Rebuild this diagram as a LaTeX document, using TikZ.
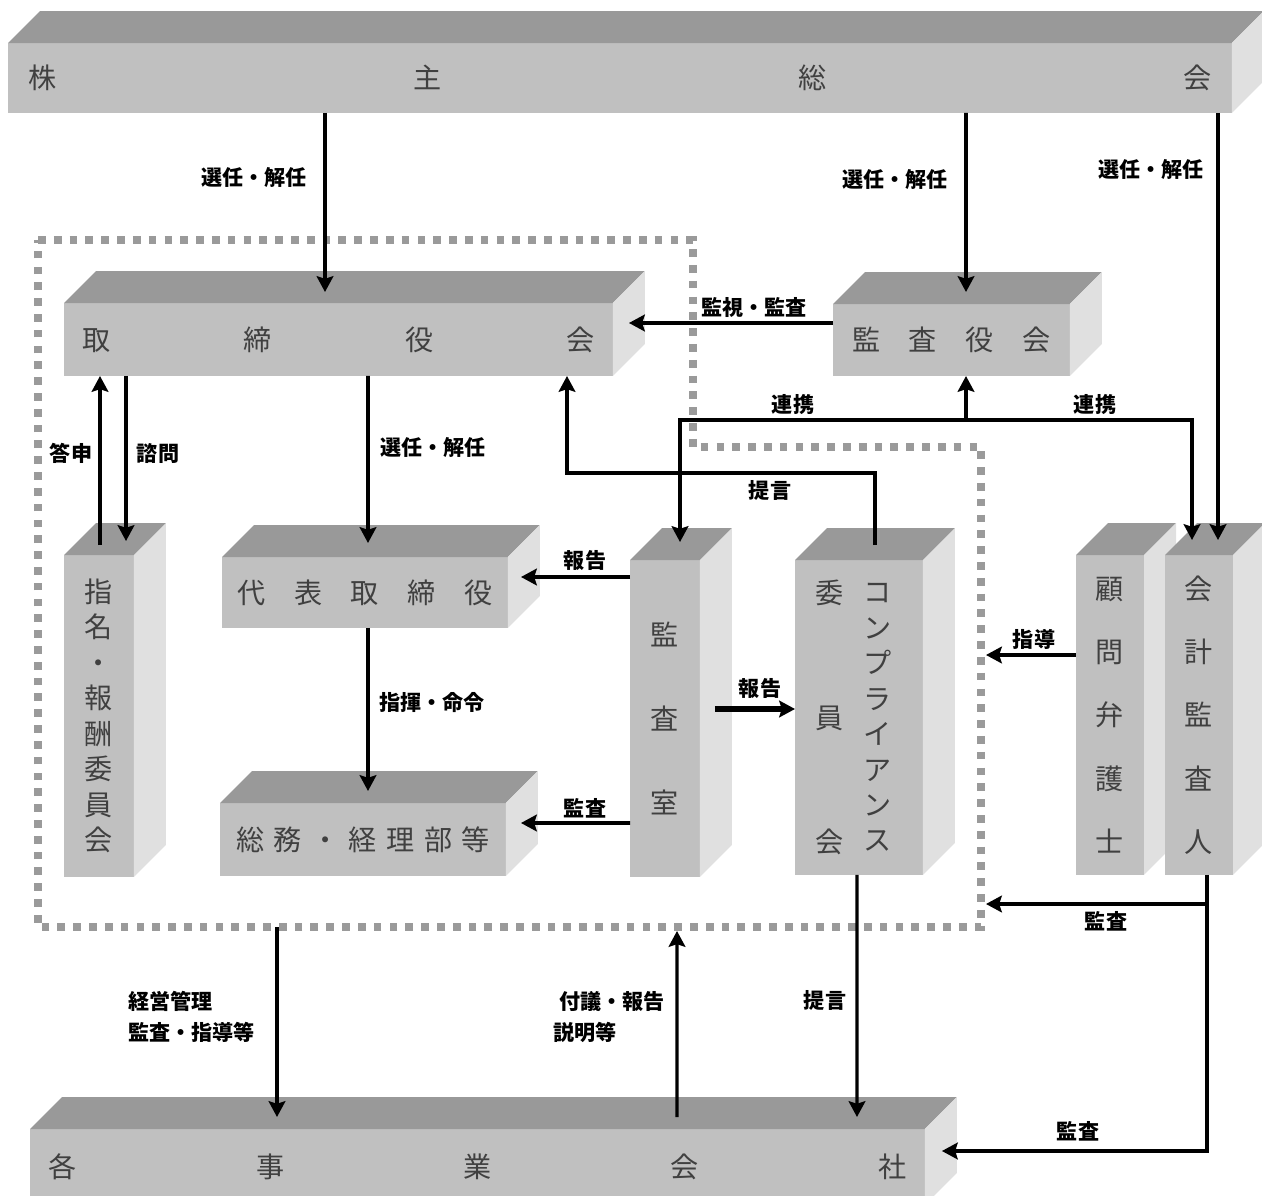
\documentclass[tikz,border=0pt]{standalone}
\usepackage{fontspec}
\usepackage{tikz}
\usetikzlibrary{arrows.meta,calc}
\newfontfamily\jp{Noto Sans CJK JP}
\definecolor{facefront}{HTML}{C0C0C0}
\definecolor{facetop}{HTML}{999999}
\definecolor{faceside}{HTML}{E0E0E0}
\definecolor{boxink}{HTML}{404040}
\definecolor{dots}{HTML}{9A9A9A}
% top and side faces of a block, drawn from the front node
\newcommand\faces[1]{%
  \fill[facetop] (#1.north west) -- ++(32,-32) -- ($(#1.north east)+(32,-32)$) -- (#1.north east) -- cycle;
  \fill[faceside] (#1.north east) -- ++(32,-32) -- ($(#1.south east)+(32,-32)$) -- (#1.south east) -- cycle;
}
\begin{document}
\begin{tikzpicture}[x=0.02cm,y=-0.02cm,
  box/.style={fill=facefront,inner sep=0pt,outer sep=0pt,text=boxink,font=\jp\fontsize{16pt}{19pt}\selectfont},
  col/.style={align=center,text=boxink,font=\jp\fontsize{16pt}{#1}\selectfont},
  lab/.style={font=\jp\bfseries\fontsize{12pt}{17.6pt}\selectfont,inner sep=0pt},
  arr/.style={line width=2.2pt,-{Stealth[length=9pt,width=9.5pt,inset=1.5pt]}},
  frame/.style={draw=dots,line width=4.3pt,dash pattern=on 4.4pt off 4.6pt}]
\clip (0,0) rectangle (1262,1196);
\draw[frame] (38,240) -- (693,240) -- (693,447) -- (981,447) -- (981,927) -- (38,927) -- cycle;
% blocks
\node[box,minimum width=24.48cm,minimum height=1.4cm] (kabu) at (620,78)
  {\hbox to 23.66cm{株\hfill 主\hfill 総\hfill 会}};
\faces{kabu}
\node[box,minimum width=10.98cm,minimum height=1.46cm] (tori) at (338.5,339.5)
  {\hbox to 10.24cm{取\hfill 締\hfill 役\hfill 会}};
\faces{tori}
\node[box,minimum width=4.74cm,minimum height=1.44cm] (kansa) at (951.5,340)
  {\hbox to 3.98cm{監\hfill 査\hfill 役\hfill 会}};
\faces{kansa}
\node[box,col=20.2pt,minimum width=1.4cm,minimum height=6.44cm] (shimei) at (99,716)
  {指\\名\\・\\報\\酬\\委\\員\\会};
\faces{shimei}
\node[box,minimum width=5.72cm,minimum height=1.42cm] (daihyo) at (365,592.5)
  {\hbox to 5.10cm{代\hfill 表\hfill 取\hfill 締\hfill 役}};
\faces{daihyo}
\node[box,minimum width=5.72cm,minimum height=1.46cm] (somu) at (363,839.5)
  {\hbox to 5.08cm{総\hfill 務\hfill ・\hfill 経\hfill 理\hfill 部\hfill 等}};
\faces{somu}
\node[box,col=47.6pt,minimum width=1.4cm,minimum height=6.34cm] (kshitsu) at (665,718.5)
  {監\\査\\室};
\faces{kshitsu}
\node[box,minimum width=2.56cm,minimum height=6.3cm] (comp) at (859,717.5) {};
\faces{comp}
\node[col=20.2pt,inner sep=0pt] (comp-kana) at ($(comp.center)+(19,0)$) {コ\\ン\\プ\\ラ\\イ\\ア\\ン\\ス};
\node[col=70.9pt,inner sep=0pt] (comp-kanji) at ($(comp.center)+(-29,0)$) {委\\員\\会};
\node[box,col=36pt,minimum width=1.36cm,minimum height=6.4cm] (komon) at (1110,715)
  {顧\\問\\弁\\護\\士};
\faces{komon}
\node[box,col=36pt,minimum width=1.36cm,minimum height=6.4cm] (kaikei) at (1199,715)
  {会\\計\\監\\査\\人};
\faces{kaikei}
\node[box,minimum width=17.9cm,minimum height=1.52cm] (kaku) at (477.5,1167)
  {\hbox to 17.16cm{各\hfill 事\hfill 業\hfill 会\hfill 社}};
\faces{kaku}
% free ends on the dotted frame
\coordinate (sidou-tip) at (986,655);
\coordinate (kansa-tip) at (986,904);
\coordinate (keiei-from) at (277,927);
\coordinate (fugi-tip) at (677,931);
\coordinate (renkei) at ($(kansa.south)+(14.5,44)$);
% connectors
\draw[arr] ($(kabu.south)+(-295,0)$) -- ($(tori.north)+(-13.5,-11)$);
\draw[arr] ($(kabu.south)+(346,0)$) -- ($(kansa.north)+(14.5,-12)$);
\draw[arr] ($(kabu.south)+(598,0)$) -- ($(kaikei.north)+(19,-15)$);
\draw[arr] ($(kansa.west)+(0,-17)$) -- ($(tori.east)+(16,-16.5)$);
\draw[arr] (renkei) -- ($(kansa.south)+(14.5,0)$);
\draw[arr] (renkei) -| ($(kshitsu.north)+(15,-18)$);
\draw[arr] (renkei) -| ($(kaikei.north)+(-7,-15)$);
\draw[arr] ($(shimei.north)+(1,-10)$) -- ($(tori.south)+(-238.5,0)$);
\draw[arr] ($(tori.south)+(-212.5,0)$) -- ($(shimei.north)+(27,-14)$);
\draw[arr] ($(tori.south)+(29.5,0)$) -- ($(daihyo.north)+(3,-14)$);
\draw[arr] ($(comp.north)+(16,-15)$) |- ($(tori.south)+(228.5,97)$) -- ($(tori.south)+(228.5,0)$);
\draw[arr] ($(daihyo.south)+(3,0)$) -- ($(somu.north)+(5,-12)$);
\draw[arr] ($(kshitsu.west)+(0,-141.5)$) -- ($(daihyo.east)+(13,-15.5)$);
\draw[arr] ($(kshitsu.west)+(0,104.5)$) -- ($(somu.east)+(15,-16.5)$);
\draw[arr,line width=3.6pt] ($(kshitsu.east)+(15,-9.5)$) -- ($(comp.west)+(0,-8.5)$);
\draw[arr] ($(komon.west)+(0,-60)$) -- (sidou-tip);
\draw[arr] ($(kaikei.south)+(8,0)$) |- ($(kaku.east)+(17,-16)$);
\draw[arr] ($(kaikei.south)+(8,29)$) -- (kansa-tip);
\draw[arr,line width=1.9pt] (keiei-from) -- ($(kaku.north)+(-200.5,-12)$);
\draw[arr,line width=1.9pt] ($(kaku.north)+(199.5,-12)$) -- (fugi-tip);
\draw[arr,line width=1.9pt] ($(comp.south)+(-2,0)$) -- ($(kaku.north)+(379.5,-12)$);
% labels
\node[lab] (l-sen1) at (254,178) {選任・解任};
\node[lab] (l-sen2) at (895,180) {選任・解任};
\node[lab] (l-sen3) at (1151,170) {選任・解任};
\node[lab] (l-kanshi) at (754,307) {監視・監査};
\node[lab] (l-ren1) at (793,405) {連携};
\node[lab] (l-ren2) at (1095,405) {連携};
\node[lab] (l-toshin) at (71,453) {答申};
\node[lab] (l-shimon) at (158,453) {諮問};
\node[lab] (l-sen4) at (433,447) {選任・解任};
\node[lab] (l-teigen1) at (770,490) {提言};
\node[lab] (l-houkoku1) at (585,560) {報告};
\node[lab] (l-shiki) at (432,703) {指揮・命令};
\node[lab] (l-houkoku2) at (760,688) {報告};
\node[lab] (l-kansa1) at (585,808) {監査};
\node[lab] (l-shidou) at (1034,639) {指導};
\node[lab] (l-kansa2) at (1106,921) {監査};
\node[lab] (l-kansa3) at (1078,1131) {監査};
\node[lab,align=left,anchor=west] (l-keiei) at (128,1017) {経営管理\\監査・指導等};
\node[lab,align=left,anchor=west] (l-fugi) at (553,1017) {\hspace*{3.4pt}付議・報告\\説明等};
\node[lab] (l-teigen2) at (825,1000) {提言};
\end{tikzpicture}
\end{document}
